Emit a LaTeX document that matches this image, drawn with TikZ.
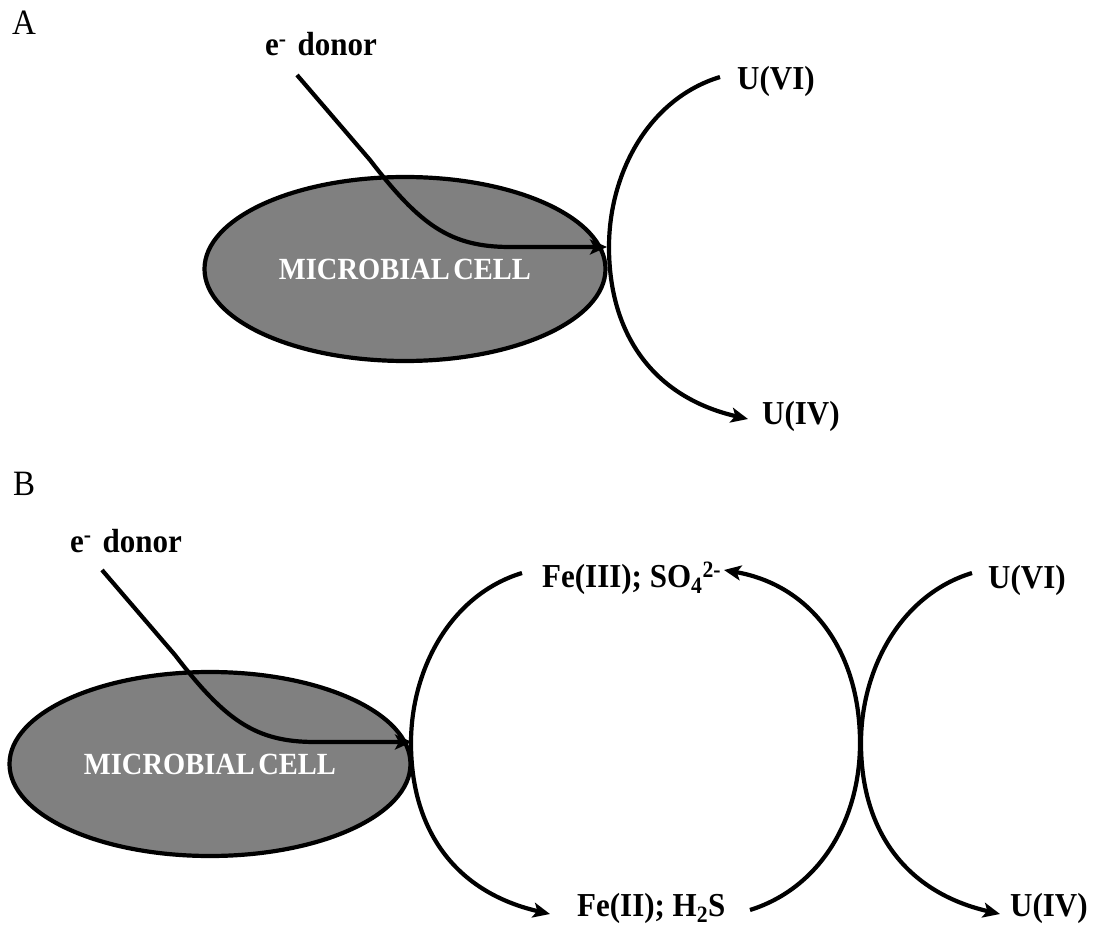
\documentclass[tikz,border=0pt]{standalone}
\usepackage{fontspec}
\setmainfont{Liberation Serif}
\usetikzlibrary{arrows.meta,shapes.geometric}
\newcommand{\vstretch}[1]{\scalebox{1}[1.08]{#1}}
\begin{document}
\begin{tikzpicture}[x=1pt,y=-1pt,
  lbl/.style={inner sep=0pt, anchor=base west, font=\fontsize{31}{36}\selectfont\bfseries},
  panel/.style={inner sep=0pt, anchor=base west, font=\fontsize{33}{38}\selectfont},
  cell/.style={ellipse, draw=black, line width=4.2pt, fill=gray, minimum width=401pt, minimum height=184pt, inner sep=0pt, text=white, font=\fontsize{28.5}{32}\selectfont\bfseries},
  flow/.style={line width=4.2pt, -{Stealth[length=17pt,width=15pt,inset=4pt]}}
]
\useasboundingbox (0,0) rectangle (1096,928);

% ---------- Panel A ----------
\node[panel] (labA) at (12,35) {\vstretch{A}};
\node[cell] (cellA) at (405,269) {\vstretch{MICROBIAL\hspace{0.12em}CELL}};
\node[lbl] (donA) at (265,56) {\vstretch{e\textsuperscript{-}\hspace{0.35em}donor}};
\node[lbl] (u6A) at (737,90) {\vstretch{U(VI)}};
\node[lbl] (u4A) at (762,424) {\vstretch{U(IV)}};

\coordinate (dA0) at (297,75);
\coordinate (dA1) at (607,247);
\draw[flow] (dA0) -- (370,160) .. controls (420,225) and (450,247) .. (510,247) -- (dA1);

\coordinate (aA0) at (720,77);
\coordinate (aA1) at (748,419);
\draw[flow] (aA0) .. controls (648,99) and (609,174) .. (609,247)
  .. controls (609,334) and (653,397) .. (aA1);

% ---------- Panel B ----------
\node[panel] (labB) at (13,495) {\vstretch{B}};
\node[cell] (cellB) at (210,764) {\vstretch{MICROBIAL\hspace{0.12em}CELL}};
\node[lbl] (donB) at (70,552) {\vstretch{e\textsuperscript{-}\hspace{0.35em}donor}};
\node[lbl] (fe3) at (542,587) {\vstretch{Fe(III); SO\textsubscript{4}\textsuperscript{2-}}};
\node[lbl] (u6B) at (988,588) {\vstretch{U(VI)}};
\node[lbl] (fe2) at (577,916) {\vstretch{Fe(II); H\textsubscript{2}S}};
\node[lbl] (u4B) at (1010,916) {\vstretch{U(IV)}};

\coordinate (dB0) at (102,570);
\coordinate (dB1) at (412,742);
\draw[flow] (dB0) -- (175,655) .. controls (225,720) and (255,742) .. (315,742) -- (dB1);

\coordinate (l0) at (522,573);
\coordinate (l1) at (550,914);
\draw[flow] (l0) .. controls (450,595) and (411,670) .. (411,743)
  .. controls (411,830) and (455,892) .. (l1);

\coordinate (m0) at (750,910);
\coordinate (m1) at (724,570);
\draw[flow] (m0) .. controls (820,888) and (860,820) .. (860,743)
  .. controls (860,650) and (810,585) .. (m1);

\coordinate (r0) at (972,573);
\coordinate (r1) at (1000,914);
\draw[flow] (r0) .. controls (900,595) and (861,670) .. (861,743)
  .. controls (861,830) and (905,892) .. (r1);
\end{tikzpicture}
\end{document}
